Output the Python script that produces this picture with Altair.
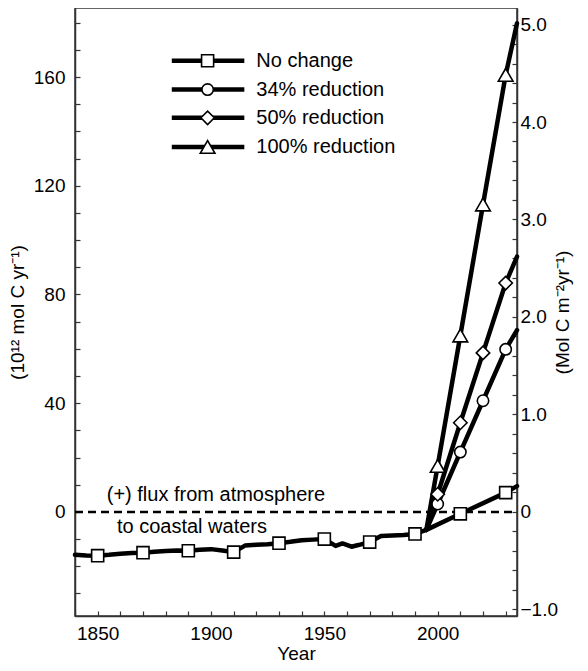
import altair as alt
import pandas as pd

FONT = "Liberation Sans"

# ---------------- data ----------------
# historical curve (10^12 mol C / yr)
hist_years = [1840, 1845, 1850, 1855, 1860, 1865, 1870, 1875, 1880, 1885, 1890, 1895,
              1900, 1905, 1910, 1915, 1920, 1925, 1930, 1935, 1940, 1945, 1950, 1955,
              1958, 1962, 1965, 1970, 1975, 1980, 1985, 1990, 1995]
hist_vals = [-15.8, -16.0, -16.1, -15.8, -15.4, -15.1, -15.0, -14.7, -14.4, -14.2, -14.3, -13.9,
             -13.7, -14.2, -14.8, -12.4, -12.1, -11.9, -11.5, -11.0, -10.4, -10.2, -10.0, -12.5,
             -11.6, -12.8, -12.2, -11.1, -8.9, -8.7, -8.5, -8.1, -6.6]

# projections
nc_proj_years = [1995, 2010, 2030, 2035]
nc_proj_vals = [-6.6, -0.7, 7.1, 9.5]
proj_years = [1995, 2000, 2010, 2020, 2030, 2035]
r34_vals = [-6.6, 2.9, 22.0, 40.9, 59.8, 66.9]
r50_vals = [-6.6, 6.5, 32.8, 58.5, 84.2, 93.9]
r100_vals = [-6.6, 16.9, 64.9, 113.1, 160.8, 179.8]

# markers
nc_marker_years = [1850, 1870, 1890, 1910, 1930, 1950, 1970, 1990, 2010, 2030]
nc_marker_vals = [-16.1, -15.0, -14.3, -14.8, -11.5, -10.0, -11.1, -8.1, -0.7, 7.1]
red_marker_years = [2000, 2010, 2020, 2030]
r34_marker_vals = [2.9, 22.0, 40.9, 59.8]
r50_marker_vals = [6.5, 32.8, 58.5, 84.2]
r100_marker_vals = [16.9, 64.9, 113.1, 160.8]

series_names = ["No change", "34% reduction", "50% reduction", "100% reduction"]
series_shapes = ["square", "circle", "diamond", "triangle-up"]
series_sizes = [145, 130, 180, 215]

# legend placement (data units)
legend_y = [166.0, 155.4, 145.0, 134.3]
legend_x1 = 1882.7
legend_x2 = 1914.7
legend_xm = 1898.5
legend_xt = 1920.0

# annotations
ann_text = ["(+) flux from atmosphere", "to coastal waters"]
ann_x = [1854.0, 1858.5]
ann_y = [6.3, -5.6]

zero_x = [1840, 2033]

# axis ticks
x_domain = [1840, 2035]
x_ticks = [1840, 1850, 1860, 1870, 1880, 1890, 1900, 1910, 1920, 1930, 1940,
           1950, 1960, 1970, 1980, 1990, 2000, 2010, 2020, 2030]
yl_domain = [-38.3, 185.4]
yl_ticks = [-30, -20, -10, 0, 10, 20, 30, 40, 50, 60, 70, 80, 90, 100, 110, 120,
            130, 140, 150, 160, 170, 180]
yr_domain = [-1.07, 5.17]
yr_ticks = [-1.0, -0.8, -0.6, -0.4, -0.2, 0.0, 0.2, 0.4, 0.6, 0.8, 1.0, 1.2, 1.4, 1.6,
            1.8, 2.0, 2.2, 2.4, 2.6, 2.8, 3.0, 3.2, 3.4, 3.6, 3.8, 4.0, 4.2, 4.4, 4.6,
            4.8, 5.0]

# ---------------- tables ----------------
lines_df = pd.concat([
    pd.DataFrame({"year": hist_years, "v": hist_vals, "s": "hist"}),
    pd.DataFrame({"year": nc_proj_years, "v": nc_proj_vals, "s": "nc"}),
    pd.DataFrame({"year": proj_years, "v": r34_vals, "s": "r34"}),
    pd.DataFrame({"year": proj_years, "v": r50_vals, "s": "r50"}),
    pd.DataFrame({"year": proj_years, "v": r100_vals, "s": "r100"}),
], ignore_index=True)

marker_sets = [
    (nc_marker_years, nc_marker_vals),
    (red_marker_years, r34_marker_vals),
    (red_marker_years, r50_marker_vals),
    (red_marker_years, r100_marker_vals),
]

ann_df = pd.DataFrame({"year": ann_x, "v": ann_y, "t": ann_text})
zero_df = pd.DataFrame({"x": [zero_x[0]], "x2": [zero_x[1]], "v": [0]})
leg_df = pd.DataFrame({"name": series_names, "y": legend_y,
                       "x1": legend_x1, "x2": legend_x2, "xm": legend_xm, "xt": legend_xt})

# ---------------- scales / axes ----------------
xscale = alt.Scale(domain=x_domain, nice=False, zero=False)
ylscale = alt.Scale(domain=yl_domain, nice=False, zero=False)
yrscale = alt.Scale(domain=yr_domain, nice=False, zero=False)

x_axis = alt.Axis(values=x_ticks, format="d",
                  labelExpr="datum.value % 50 == 0 ? datum.label : ''",
                  title="Year", grid=False, labelOverlap=False, labelFlush=False,
                  tickSize={"expr": "-5"}, labelPadding=13, titlePadding=1)
yl_axis = alt.Axis(orient="left", values=yl_ticks, format="d",
                   labelExpr="datum.value % 40 == 0 ? datum.label : ''",
                   title="(10¹² mol C yr⁻¹)", grid=False, labelOverlap=False,
                   labelFlush=False, tickSize={"expr": "-5"}, labelPadding=15,
                   titlePadding=6)
yr_axis = alt.Axis(orient="right", values=yr_ticks,
                   labelExpr="abs(datum.value - round(datum.value)) < 0.001 ? (abs(datum.value) < 0.001 ? '0' : format(datum.value, '.1f')) : ''",
                   title="(Mol C m⁻²yr⁻¹)", titleAngle=270, grid=False, labelOverlap=False,
                   labelFlush=False, tickSize={"expr": "-5"}, labelPadding=8,
                   titlePadding=15)


def X(field):
    return alt.X(field, type="quantitative", scale=xscale, axis=x_axis)


def YL(field):
    return alt.Y(field, type="quantitative", scale=ylscale, axis=yl_axis)


zero_rule = alt.Chart(zero_df).mark_rule(
    color="black", strokeWidth=2.5, strokeDash=[8, 5]
).encode(x=X("x"), x2="x2", y=YL("v"))

lines = alt.Chart(lines_df).mark_line(
    color="black", strokeWidth=4.5, strokeJoin="round", strokeCap="round"
).encode(x=X("year"), y=YL("v"), detail="s:N")

marker_layers = []
for (yrs, vals), shp, sz in zip(marker_sets, series_shapes, series_sizes):
    df = pd.DataFrame({"year": yrs, "v": vals})
    marker_layers.append(
        alt.Chart(df).mark_point(shape=shp, size=sz, filled=True, fill="white",
                                 stroke="black", strokeWidth=1.6, opacity=1)
        .encode(x=X("year"), y=YL("v"))
    )

ann = alt.Chart(ann_df).mark_text(
    align="left", baseline="middle", font=FONT, fontSize=20, color="black"
).encode(x=X("year"), y=YL("v"), text="t:N")

leg_lines = alt.Chart(leg_df).mark_rule(color="black", strokeWidth=4.5).encode(
    x=X("x1"), x2="x2", y=YL("y"))

leg_marks = []
for i, (shp, sz) in enumerate(zip(series_shapes, series_sizes)):
    leg_marks.append(
        alt.Chart(leg_df.iloc[[i]]).mark_point(shape=shp, size=sz, filled=True, fill="white",
                                               stroke="black", strokeWidth=1.6, opacity=1)
        .encode(x=X("xm"), y=YL("y"))
    )

leg_text = alt.Chart(leg_df).mark_text(
    align="left", baseline="middle", font=FONT, fontSize=20, color="black"
).encode(x=X("xt"), y=YL("y"), text="name:N")

left = alt.layer(zero_rule, lines, *marker_layers, ann, leg_lines, *leg_marks, leg_text)

right_df = pd.DataFrame({"r": yr_ticks})
right = alt.Chart(right_df).mark_point(opacity=0).encode(
    y=alt.Y("r:Q", scale=yrscale, axis=yr_axis))

chart = alt.layer(left, right).resolve_scale(y="independent").properties(
    width=442, height=608,
    autosize=alt.AutoSizeParams(type="none"),
    padding={"left": 67, "top": 0, "right": 63, "bottom": 47}
).configure_view(
    stroke="#333", strokeWidth=1.5
).configure_axis(
    labelFont=FONT, titleFont=FONT, labelFontSize=19, titleFontSize=19,
    titleFontWeight="normal", labelColor="black", titleColor="black",
    domainColor="#333", domainWidth=1.5, tickColor="#333", tickWidth=1.2
)

chart.save("out.html", embed_options={"renderer": "svg", "actions": False})
